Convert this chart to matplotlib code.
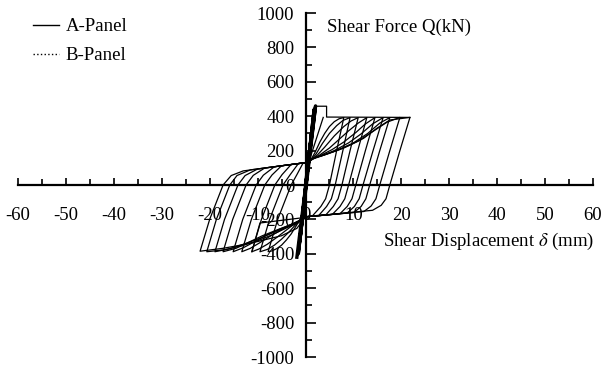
import matplotlib
matplotlib.use("Agg")
import matplotlib.pyplot as plt
from matplotlib.lines import Line2D
from matplotlib.ticker import MultipleLocator

plt.rcParams['font.family'] = ['Liberation Serif', 'DejaVu Serif']
plt.rcParams['mathtext.fontset'] = 'stix'

# A-Panel: elastic cycles (thick core near the origin)
elastic_x = [-1.8, 2.1, -1.5, 1.8, -1.2, 1.4, 0.0]
elastic_y = [-420, 460, -400, 440, -330, 330, 0]

# first inelastic excursions
first_x = [-1.8, 2.1, 4.4, 4.4, 21.8]
first_y = [-415, 458, 458, 395, 393]
drop_x = [3.7, 1.0]
drop_y = [393, 160]
neg_first_x = [-0.5, -9.5, -11.2]
neg_first_y = [-190, -221, -388]

# hysteresis loops (one list per cycle: +load, +unload, slip, -load, -unload, slip)
loop_x = [
    [1.0, 2.0, 3.0, 4.0, 5.0, 6.0, 7.0, 8.0, 6.5, 5.0, 4.2, 3.2, 1.5, 0.0,
     -1.0, -2.0, -3.0, -4.0, -5.0, -6.0, -7.0, -7.8, -5.8, -3.0, -1.8, -0.5, 0.0],
    [1.0, 2.2, 3.5, 5.0, 6.5, 7.8, 9.3, 7.8, 6.2, 5.4, 4.4, 2.8, 0.0,
     -1.0, -2.2, -3.5, -5.0, -6.5, -8.0, -9.5, -7.5, -4.7, -3.2, -1.5, 0.0],
    [1.2, 2.5, 4.0, 6.0, 8.0, 9.5, 11.0, 9.3, 7.6, 6.8, 5.8, 4.2, 0.0,
     -1.2, -2.5, -4.0, -6.0, -8.0, -9.7, -11.2, -9.2, -6.4, -4.9, -3.0, 0.0],
    [1.2, 3.0, 5.0, 7.0, 9.0, 11.0, 12.8, 10.9, 9.0, 8.2, 7.2, 5.6, 0.0,
     -1.2, -3.0, -5.0, -7.5, -9.5, -11.5, -13.3, -11.3, -8.5, -7.0, -5.0, 0.0],
    [1.3, 3.0, 5.5, 8.0, 10.5, 12.5, 14.5, 12.5, 10.5, 9.7, 8.7, 7.2, 0.0,
     -1.3, -3.0, -5.5, -8.0, -10.5, -13.0, -15.1, -13.1, -10.3, -8.8, -6.5, 0.0],
    [1.4, 3.5, 6.0, 9.0, 11.5, 14.0, 16.2, 14.1, 12.0, 11.2, 10.2, 8.7, 0.0,
     -1.4, -3.5, -6.0, -9.0, -12.0, -14.5, -17.2, -15.2, -12.4, -10.9, -8.5, 0.0],
    [1.5, 4.0, 7.0, 10.0, 13.0, 15.5, 17.6, 15.5, 13.4, 12.6, 11.6, 10.1, 0.0,
     -1.5, -4.0, -7.0, -10.0, -13.0, -16.0, -18.9, -16.9, -14.1, -12.6, -10.0, 0.0],
    [1.5, 4.5, 8.0, 11.0, 14.0, 17.0, 19.7, 17.6, 15.5, 14.7, 13.7, 12.2, 0.0,
     -1.5, -4.0, -7.0, -10.0, -13.5, -17.0, -20.6, -18.6, -15.8, -14.3, -11.5, 0.0],
    [1.6, 5.8, 9.3, 12.1, 14.9, 17.6, 21.8, 19.7, 17.6, 16.8, 15.8, 14.0, 0.0,
     -1.8, -5.0, -10.2, -14.0, -17.2, -22.0, -20.0, -17.2, -15.5, -13.0, 0.0],
]
loop_y = [
    [140, 190, 250, 300, 340, 368, 385, 392, 200, 0, -80, -125, -178, -185,
     -195, -240, -285, -320, -350, -370, -383, -388, -200, 0, 60, 128, 130],
    [140, 180, 240, 300, 345, 375, 392, 200, 0, -80, -125, -176, -185,
     -200, -235, -275, -315, -350, -375, -388, -200, 0, 60, 124, 130],
    [145, 175, 220, 285, 340, 372, 392, 200, 0, -80, -125, -175, -185,
     -205, -230, -262, -305, -345, -372, -388, -200, 0, 60, 119, 130],
    [145, 175, 215, 265, 315, 360, 392, 200, 0, -80, -125, -171, -185,
     -205, -230, -260, -300, -335, -368, -388, -200, 0, 58, 112, 130],
    [150, 170, 205, 250, 305, 355, 392, 200, 0, -80, -125, -167, -185,
     -210, -230, -258, -290, -328, -365, -388, -200, 0, 57, 106, 130],
    [150, 170, 200, 245, 295, 355, 392, 200, 0, -80, -125, -163, -185,
     -210, -235, -262, -295, -335, -368, -388, -200, 0, 56, 99, 130],
    [155, 175, 205, 245, 300, 360, 392, 200, 0, -80, -125, -160, -185,
     -215, -245, -280, -315, -345, -372, -388, -200, 0, 55, 93, 130],
    [155, 180, 215, 255, 310, 365, 393, 200, 0, -80, -122, -154, -185,
     -220, -250, -290, -325, -355, -377, -388, -200, 0, 55, 88, 130],
    [155, 194, 233, 271, 330, 378, 393, 200, 0, -80, -118, -147, -185,
     -252, -295, -330, -352, -368, -385, -200, 0, 55, 82, 130],
]

x_ticks = list(range(-60, 61, 10))
y_ticks = list(range(-1000, 1001, 200))

fig = plt.figure(figsize=(6.03, 3.70), dpi=100)
ax = fig.add_axes([18 / 603, 13 / 370, 575 / 603, 344 / 370])
ax.set_xlim(-60, 60)
ax.set_ylim(-1000, 1000)

lw = 0.9
ax.plot(elastic_x, elastic_y, color='black', lw=2.4)
ax.plot(first_x, first_y, color='black', lw=lw)
ax.plot(drop_x, drop_y, color='black', lw=lw)
ax.plot(neg_first_x, neg_first_y, color='black', lw=lw)
for xs, ys in zip(loop_x, loop_y):
    ax.plot(xs, ys, color='black', lw=lw)

# axes crossing at the origin
for side in ['top', 'right']:
    ax.spines[side].set_visible(False)
ax.spines['left'].set_position(('data', 0))
ax.spines['bottom'].set_position(('data', 0))
ax.spines['left'].set_linewidth(1.6)
ax.spines['bottom'].set_linewidth(1.6)

ax.set_xticks(x_ticks)
ax.set_xticklabels([str(v) for v in x_ticks])
ax.xaxis.set_minor_locator(MultipleLocator(5))
ax.set_yticks(y_ticks)
ax.set_yticklabels([str(v) for v in y_ticks])
ax.yaxis.set_minor_locator(MultipleLocator(100))
ax.tick_params(axis='x', which='major', direction='in', length=5, width=1.2,
               pad=16, labelsize=13.5)
ax.tick_params(axis='x', which='minor', direction='in', length=4, width=1.2)
ax.tick_params(axis='y', which='major', direction='in', length=7, width=1.2,
               pad=8, labelsize=13.5)
ax.tick_params(axis='y', which='minor', direction='in', length=4, width=1.2)

fig.text(327 / 603, 1 - 27 / 370, 'Shear Force Q(kN)', fontsize=13.5,
         ha='left', va='center')
fig.text(383 / 603, 1 - 241 / 370, r'Shear Displacement $\delta$ (mm)',
         fontsize=13.5, ha='left', va='center')

handles = [Line2D([], [], color='black', lw=1.0),
           Line2D([], [], color='black', lw=1.0, ls=':')]
fig.legend(handles, ['A-Panel', 'B-Panel'], loc='upper left',
           bbox_to_anchor=(33 / 603, 1 - 18 / 370), frameon=False,
           fontsize=13.5, handlelength=1.4, handletextpad=0.35,
           labelspacing=0.65, borderaxespad=0, borderpad=0)

fig.savefig('out.png', dpi=100)
